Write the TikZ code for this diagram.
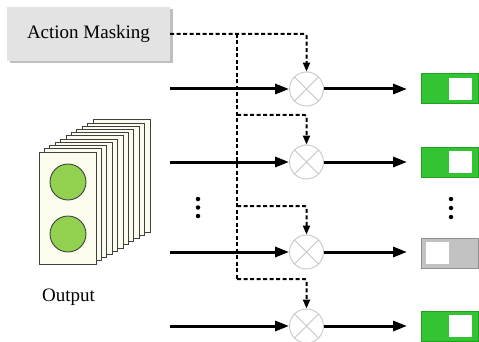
\documentclass[tikz,border=0pt]{standalone}
\usepackage{fontspec}
\setmainfont{Liberation Serif}
\usetikzlibrary{arrows.meta,calc}
\definecolor{boxgray}{HTML}{E3E3E3}
\definecolor{tgreen}{HTML}{33C433}
\definecolor{tgreenb}{HTML}{22A022}
\definecolor{tgray}{HTML}{C2C2C2}
\definecolor{tgrayb}{HTML}{8E8E8E}
\definecolor{cardfill}{HTML}{FCFCEE}
\definecolor{ballgreen}{HTML}{92D050}
\tikzset{
  mult/.style={circle,draw=black!22,fill=white,line width=0.9pt,minimum size=34pt,inner sep=0pt,
    path picture={\draw[black!22,line width=0.9pt] (path picture bounding box.north west)--(path picture bounding box.south east)
      (path picture bounding box.north east)--(path picture bounding box.south west);}},
  solidarrow/.style={line width=3pt,-{Triangle[length=14pt,width=10pt]}},
  maskline/.style={line width=2pt,dash pattern=on 4pt off 2.5pt,rounded corners=2pt},
  maskarrow/.style={maskline,-{Triangle[length=9pt,width=7pt]}},
  togglebox/.style={draw=tgreenb,fill=tgreen,line width=1pt,minimum width=57pt,minimum height=30pt,inner sep=0pt},
  togglegray/.style={draw=tgrayb,fill=tgray,line width=1pt,minimum width=57pt,minimum height=30pt,inner sep=0pt},
  knob/.style={fill=white,draw=none,minimum width=23pt,minimum height=22pt,inner sep=0pt},
  card/.style={draw=black!75,fill=cardfill,line width=1pt},
  ball/.style={circle,draw=black!80,fill=ballgreen,line width=0.8pt,minimum size=36pt,inner sep=0pt},
  dot/.style={circle,fill=black,inner sep=0pt,minimum size=4.5pt},
  lbl/.style={font=\fontsize{19}{22}\selectfont}
}
\begin{document}
\begin{tikzpicture}[x=1pt,y=-1pt]
\useasboundingbox (0,0) rectangle (479,342);
% action masking box
\fill[black!25] (9.5,9.5) rectangle (172.5,63.5);
\node[lbl,fill=boxgray,minimum width=163pt,minimum height=54pt,inner sep=0pt] (am) at (88.5,34) {Action Masking};
% multipliers
\node[mult] (m1) at (306.5,89) {};
\node[mult] (m2) at (306.5,162) {};
\node[mult] (m3) at (306.5,252) {};
\node[mult] (m4) at (306.5,326) {};
% toggles
\node[togglebox] (t1) at (449.5,89) {};
\node[togglebox] (t2) at (449.5,162) {};
\node[togglegray] (t3) at (449.5,253) {};
\node[togglebox] (t4) at (449.5,326) {};
\node[knob,anchor=east] (k1) at ($(t1.east)+(-6,0)$) {};
\node[knob,anchor=east] (k2) at ($(t2.east)+(-6,0)$) {};
\node[knob,anchor=west] (k3) at ($(t3.west)+(5,0)$) {};
\node[knob,anchor=east] (k4) at ($(t4.east)+(-6,0)$) {};
% input starts
\coordinate (s1) at (170,89);
\coordinate (s2) at (170,162);
\coordinate (s3) at (170,252);
\coordinate (s4) at (170,326);
% output ends
\coordinate (e1) at (407,89);
\coordinate (e2) at (407,162);
\coordinate (e3) at (407,252);
\coordinate (e4) at (407,326);
% dashed mask lines
\coordinate (j0) at (237,34);
\coordinate (j1) at (237,115);
\coordinate (j2) at (237,206);
\coordinate (j3) at (237,279);
\draw[maskline] (j0) -- (j3);
\draw[maskarrow] (am.east) -| (m1.north);
\draw[maskarrow] (j1) -| (m2.north);
\draw[maskarrow] (j2) -| (m3.north);
\draw[maskarrow] (j3) -| (m4.north);
% solid lines
\foreach \i in {1,2,3,4}{
  \draw[solidarrow] (s\i) -- (m\i.west);
  \draw[solidarrow] (m\i.east) -- (e\i);
}
% card stack
\foreach \k in {10,9,...,1}{
  \draw[card] ($(39,152)+(5.4*\k,-3.2*\k)$) rectangle ++(57,112);
}
\draw[card] (39,152) rectangle (96,264);
\node[ball] (b1) at (68,182) {};
\node[ball] (b2) at (68,234) {};
\node[lbl] (out) at (68.5,297) {Output};
% dots
\node[dot] (dl1) at (198,199) {};
\node[dot] (dl2) at (198,207.5) {};
\node[dot] (dl3) at (198,216) {};
\node[dot] (dr1) at (451,199) {};
\node[dot] (dr2) at (451,208) {};
\node[dot] (dr3) at (451,217) {};
\end{tikzpicture}
\end{document}
